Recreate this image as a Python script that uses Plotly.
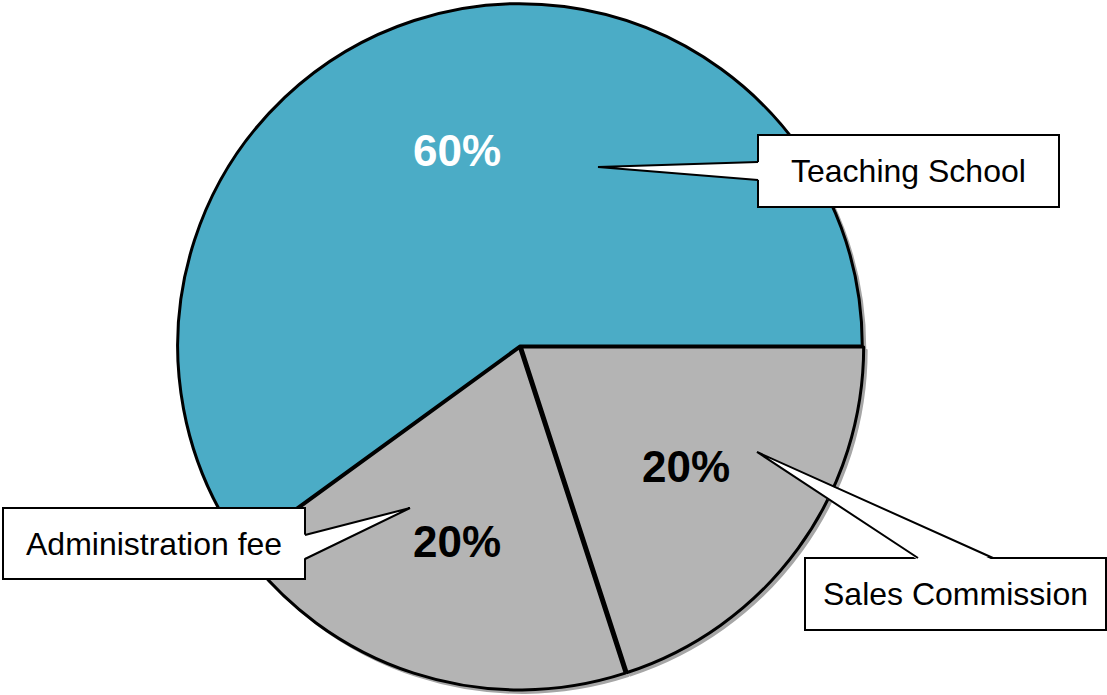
import math
import plotly.graph_objects as go

categories = ["Teaching School", "Administration fee", "Sales Commission"]
values = [60, 20, 20]
slice_colors = ["#4BACC6", "#B4B4B4", "#B4B4B4"]
text_colors = ["white", "black", "black"]
pulls = [0, 0.005, 0.005]

W, H = 1107, 695
FONT = "Arial, Liberation Sans, sans-serif"

def px(x):
    return x / W

def py(y):
    return 1 - y / H

cx, cy, half = 520, 346, 344
dom_x = [px(cx - half), px(cx + half)]
dom_y = [py(cy + half), py(cy - half)]

# first slice starts at 3 o'clock and the slices follow counterclockwise
total = sum(values)
rot = 90 - 360 * values[0] / total

fig = go.Figure()

# shadow pie
fig.add_trace(go.Pie(
    labels=categories, values=values, sort=False, direction="counterclockwise",
    rotation=rot, pull=pulls,
    marker=dict(colors=["#a6a6a6"] * len(values), line=dict(color="#a6a6a6", width=2)),
    textinfo="none", hoverinfo="skip", showlegend=False,
    domain=dict(x=[dom_x[0] + px(3), dom_x[1] + px(3)], y=[dom_y[0] - 3 / H, dom_y[1] - 3 / H]),
))

fig.add_trace(go.Pie(
    labels=categories, values=values, sort=False, direction="counterclockwise",
    rotation=rot, pull=pulls,
    marker=dict(colors=slice_colors, line=dict(color="black", width=3)),
    textinfo="none", showlegend=False,
    domain=dict(x=dom_x, y=dom_y),
))

# percentage labels placed at 0.6 of the radius along each slice's mid-angle
R = half / (1 + max(pulls))
cum = 0
annotations = []
for v, tc in zip(values, text_colors):
    mid = (cum + v / 2) / total * 2 * math.pi  # counterclockwise from 3 o'clock
    cum += v
    lx = cx + 0.6 * R * math.cos(mid)
    ly = cy - 0.6 * R * math.sin(mid)
    annotations.append(dict(xref="paper", yref="paper", x=px(lx), y=py(ly),
                            text="<b>{:.0f}%</b>".format(v / total * 100), showarrow=False,
                            xanchor="center", yanchor="middle",
                            font=dict(family=FONT, size=44, color=tc)))

# callout boxes: (box x0, y0, x1, y1), wedge (base1, tip, base2)
callouts = [
    ((758, 135, 1059, 207), ((758, 162), (598, 167), (758, 180))),
    ((3, 508, 305, 579), ((305, 535), (410, 508), (305, 559))),
    ((805, 558, 1106, 630), ((918, 558), (757, 452), (993, 558))),
]

shapes = []
for (box, wedge), label in zip(callouts, categories):
    x0, y0, x1, y1 = box
    shapes.append(dict(type="rect", xref="paper", yref="paper",
                       x0=px(x0), x1=px(x1), y0=py(y1), y1=py(y0),
                       fillcolor="white", line=dict(color="black", width=2), layer="above"))
    (b1, t, b2) = wedge
    if b1[0] == b2[0]:
        d = 2 if b1[0] == x0 else -2
        fb1 = (b1[0] + d, b1[1]); fb2 = (b2[0] + d, b2[1])
    else:
        fb1 = (b1[0], b1[1] + 2); fb2 = (b2[0], b2[1] + 2)
    path_fill = "M {} {} L {} {} L {} {} Z".format(px(fb1[0]), py(fb1[1]), px(t[0]), py(t[1]), px(fb2[0]), py(fb2[1]))
    shapes.append(dict(type="path", xref="paper", yref="paper", path=path_fill,
                       fillcolor="white", line=dict(width=0), layer="above"))
    path_line = "M {} {} L {} {} L {} {}".format(px(b1[0]), py(b1[1]), px(t[0]), py(t[1]), px(b2[0]), py(b2[1]))
    shapes.append(dict(type="path", xref="paper", yref="paper", path=path_line,
                       line=dict(color="black", width=2), layer="above"))
    annotations.append(dict(xref="paper", yref="paper", x=px((x0 + x1) / 2), y=py((y0 + y1) / 2),
                            text=label, showarrow=False, xanchor="center", yanchor="middle",
                            font=dict(family=FONT, size=32, color="black")))

fig.update_layout(
    width=W, height=H, margin=dict(l=0, r=0, t=0, b=0),
    paper_bgcolor="white", plot_bgcolor="white",
    shapes=shapes, annotations=annotations,
)

fig.write_html("out.html", config={"displayModeBar": False},
               post_script="document.body.style.margin='0';")
